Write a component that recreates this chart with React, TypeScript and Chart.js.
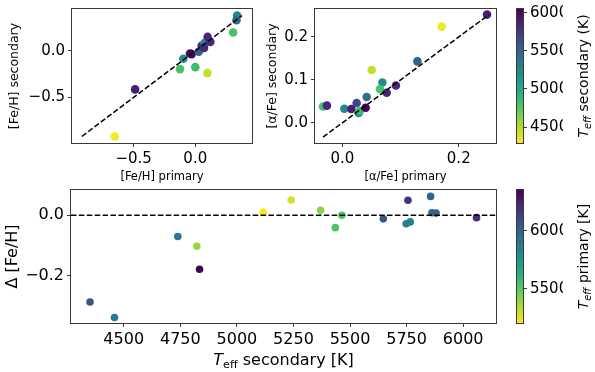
import React, { useEffect, useRef } from 'react';
import { Chart, registerables } from 'chart.js';

Chart.register(...registerables);

const FAM = '"DejaVu Sans", sans-serif';

// ---------------- data ----------------
// top-left: [Fe/H] primary vs secondary, coloured by Teff secondary
const TL_FEH_PRIMARY = [-0.653, -0.488, -0.124, -0.097, 0.0, 0.098, -0.043, -0.03, 0.028, 0.052, 0.074, 0.1, 0.071, 0.122, 0.307, 0.339, 0.334];
const TL_FEH_SECONDARY = [-0.92, -0.414, -0.196, -0.085, -0.175, -0.239, -0.028, -0.035, -0.01, 0.054, 0.085, 0.15, 0.032, 0.097, 0.197, 0.379, 0.329];
const TL_TEFF_SEC = [4300, 5900, 4800, 5200, 4850, 4450, 5950, 6040, 5500, 5850, 5250, 5850, 5850, 5850, 4800, 5250, 5450];

// top-right: [alpha/Fe] primary vs secondary
const TR_ALPHA_PRIMARY = [0.2486, 0.1707, 0.129, 0.0504, 0.0688, 0.0647, 0.092, 0.0762, 0.0418, 0.0246, 0.0034, 0.0155, 0.028, 0.03, 0.04, -0.0333, -0.0265];
const TR_ALPHA_SECONDARY = [0.252, 0.224, 0.143, 0.123, 0.094, 0.078, 0.087, 0.07, 0.06, 0.046, 0.0326, 0.032, 0.023, 0.028, 0.035, 0.038, 0.04];
const TR_TEFF_SEC = [5900, 4320, 5500, 4450, 5200, 4800, 5850, 5850, 5400, 5700, 5250, 5900, 5250, 4850, 6040, 4800, 5850];

// bottom: Delta [Fe/H] vs Teff secondary, coloured by Teff primary
const BOT_TEFF_SEC = [4351, 4459, 4739, 4823, 4835, 5116, 5240, 5370, 5464, 5435, 5647, 5748, 5766, 5756, 5856, 5862, 5880, 6059];
const BOT_DELTA = [-0.286, -0.337, -0.07, -0.102, -0.178, 0.01, 0.05, 0.016, 0.0, -0.041, -0.012, -0.028, -0.022, 0.049, 0.062, 0.008, 0.007, -0.008];
const BOT_TEFF_PRIM = [6050, 5900, 5900, 5380, 6350, 5210, 5285, 5410, 5525, 5525, 6050, 5850, 5850, 6180, 5980, 6000, 6000, 6215];

// axis limits & ticks
const TL_X_LIM = [-1.0, 0.46];
const TL_Y_LIM = [-0.99, 0.45];
const TL_X_TICKS = [-0.5, 0.0];
const TL_X_LABELS = ['\u22120.5', '0.0'];
const TL_Y_TICKS = [-0.5, 0.0];
const TL_Y_LABELS = ['\u22120.5', '0.0'];

const TR_X_LIM = [-0.047, 0.264];
const TR_Y_LIM = [-0.047, 0.265];
const TR_X_TICKS = [0.0, 0.2];
const TR_X_LABELS = ['0.0', '0.2'];
const TR_Y_TICKS = [0.0, 0.1, 0.2];
const TR_Y_LABELS = ['0.0', '0.1', '0.2'];

const BOT_X_LIM = [4267, 6145];
const BOT_Y_LIM = [-0.355, 0.083];
const BOT_X_TICKS = [4500, 4750, 5000, 5250, 5500, 5750, 6000];
const BOT_X_LABELS = ['4500', '4750', '5000', '5250', '5500', '5750', '6000'];
const BOT_Y_TICKS = [-0.2, 0.0];
const BOT_Y_LABELS = ['\u22120.2', '0.0'];

const CB1_LIM = [4290, 6050];
const CB1_TICKS = [4500, 5000, 5500, 6000];
const CB1_LABELS = ['4500', '5000', '5500', '6000'];
const CB2_LIM = [5204, 6353];
const CB2_TICKS = [5500, 6000];
const CB2_LABELS = ['5500', '6000'];

// ---------------- colour map ----------------
const VIRIDIS = ['#440154', '#482475', '#414487', '#355f8d', '#2a788e', '#21918c', '#22a884', '#44bf70', '#7ad151', '#bddf26', '#fde725'];
function hexToRgb(h: string) {
  return [parseInt(h.slice(1, 3), 16), parseInt(h.slice(3, 5), 16), parseInt(h.slice(5, 7), 16)];
}
function viridis(t: number) {
  t = Math.max(0, Math.min(1, t));
  const p = t * (VIRIDIS.length - 1);
  const i = Math.min(VIRIDIS.length - 2, Math.floor(p));
  const f = p - i;
  const a = hexToRgb(VIRIDIS[i]);
  const b = hexToRgb(VIRIDIS[i + 1]);
  const c = a.map((v, k) => Math.round(v + (b[k] - v) * f));
  return `rgb(${c[0]},${c[1]},${c[2]})`;
}
// reversed viridis: low value -> yellow
function cmapR(v: number, lim: number[]) {
  return viridis(1 - (v - lim[0]) / (lim[1] - lim[0]));
}

// ---------------- helpers ----------------
type Part = { t: string; size: number; italic?: boolean; sub?: boolean };
function drawRich(ctx: CanvasRenderingContext2D, parts: Part[], cx: number, cy: number, rot: number, baseSize: number) {
  ctx.save();
  ctx.translate(cx, cy);
  ctx.rotate(rot);
  ctx.fillStyle = '#000';
  ctx.textAlign = 'left';
  ctx.textBaseline = 'alphabetic';
  const fonts = parts.map((p) => `${p.italic ? 'italic ' : ''}${p.size}px ${FAM}`);
  const widths = parts.map((p, i) => {
    ctx.font = fonts[i];
    return ctx.measureText(p.t).width;
  });
  const total = widths.reduce((a, b) => a + b, 0);
  let x = -total / 2;
  const base = baseSize * 0.36;
  parts.forEach((p, i) => {
    ctx.font = fonts[i];
    ctx.fillText(p.t, x, base + (p.sub ? baseSize * 0.22 : 0));
    x += widths[i];
  });
  ctx.restore();
}

type Area = { l: number; t: number; r: number; b: number };
const W = 595;
const H = 372;
const Y_W = 60;
const X_H = 40;

function framePlugin() {
  return {
    id: 'frame',
    afterDraw(chart: any) {
      const { ctx, chartArea: a } = chart;
      ctx.save();
      ctx.strokeStyle = '#3a3a3a';
      ctx.lineWidth = 1;
      const l = Math.round(a.left) - 0.5;
      const t = Math.round(a.top) - 0.5;
      const r = Math.round(a.right) + 0.5;
      const b = Math.round(a.bottom) + 0.5;
      ctx.strokeRect(l, t, r - l, b - t);
      ctx.restore();
    },
  };
}

function titlesPlugin(draw: (ctx: CanvasRenderingContext2D, a: any) => void) {
  return {
    id: 'titles',
    afterDraw(chart: any) {
      draw(chart.ctx, chart.chartArea);
    },
  };
}

function scaleCfg(lim: number[], ticks: number[], labels: string[], isX: boolean, fontSize: number, display = true, position?: string) {
  return {
    type: 'linear',
    display,
    position,
    min: lim[0],
    max: lim[1],
    afterBuildTicks: (s: any) => {
      s.ticks = ticks.map((v) => ({ value: v }));
    },
    afterFit: (s: any) => {
      if (isX) s.height = X_H;
      else s.width = position === 'right' ? 40 : Y_W;
      s.paddingTop = 0;
      s.paddingBottom = 0;
      s.paddingLeft = 0;
      s.paddingRight = 0;
    },
    ticks: {
      callback: (_v: any, i: number) => labels[i],
      font: { family: FAM, size: fontSize },
      color: '#000',
      padding: 3,
      maxRotation: 0,
      minRotation: 0,
      autoSkip: false,
    },
    grid: { drawOnChartArea: false, drawTicks: true, tickLength: 4, color: '#3a3a3a', lineWidth: 1 },
    border: { display: false },
  };
}

function padFor(area: Area, yRight = false) {
  return {
    left: yRight ? area.l : area.l - Y_W,
    top: area.t,
    right: yRight ? W - area.r - 40 : W - area.r,
    bottom: H - area.b - X_H,
  };
}

function pointsDs(xs: number[], ys: number[], cs: number[], lim: number[], r: number) {
  const colors = cs.map((c) => cmapR(c, lim));
  return {
    data: xs.map((x, i) => ({ x, y: ys[i] })),
    backgroundColor: colors,
    borderColor: colors,
    borderWidth: 0,
    pointRadius: r,
    pointHoverRadius: r,
    pointBorderWidth: 0,
    showLine: false,
  };
}

function lineDs(pts: { x: number; y: number }[]) {
  return {
    data: pts,
    showLine: true,
    borderColor: '#000',
    borderWidth: 1.5,
    borderDash: [5.5, 2.4],
    pointRadius: 0,
    pointHoverRadius: 0,
    fill: false,
  };
}

function panelConfig(opts: {
  area: Area;
  xLim: number[];
  yLim: number[];
  xTicks: number[];
  xLabels: string[];
  yTicks: number[];
  yLabels: string[];
  tickSize: number;
  datasets: any[];
  draw: (ctx: CanvasRenderingContext2D, a: any) => void;
}) {
  return {
    type: 'scatter',
    data: { datasets: opts.datasets },
    options: {
      responsive: false,
      maintainAspectRatio: false,
      animation: false,
      devicePixelRatio: 1,
      events: [],
      layout: { padding: padFor(opts.area), autoPadding: false },
      plugins: { legend: { display: false }, tooltip: { enabled: false }, title: { display: false } },
      scales: {
        x: scaleCfg(opts.xLim, opts.xTicks, opts.xLabels, true, opts.tickSize),
        y: scaleCfg(opts.yLim, opts.yTicks, opts.yLabels, false, opts.tickSize),
      },
    },
    plugins: [framePlugin(), titlesPlugin(opts.draw)],
  } as any;
}

function colorbarConfig(area: Area, lim: number[], ticks: number[], labels: string[], draw: (ctx: CanvasRenderingContext2D, a: any) => void) {
  const gradientPlugin = {
    id: 'grad',
    beforeDatasetsDraw(chart: any) {
      const { ctx, chartArea: a } = chart;
      const y0 = chart.scales.y.getPixelForValue(lim[0]);
      const y1 = chart.scales.y.getPixelForValue(lim[1]);
      const g = ctx.createLinearGradient(0, y0, 0, y1);
      for (let i = 0; i <= 50; i++) {
        const t = i / 50;
        g.addColorStop(t, cmapR(lim[0] + t * (lim[1] - lim[0]), lim));
      }
      ctx.save();
      ctx.fillStyle = g;
      ctx.fillRect(a.left, y1, a.right - a.left, y0 - y1);
      ctx.restore();
    },
  };
  return {
    type: 'scatter',
    data: { datasets: [{ data: [] }] },
    options: {
      responsive: false,
      maintainAspectRatio: false,
      animation: false,
      devicePixelRatio: 1,
      events: [],
      layout: {
        padding: { left: area.l, top: area.t, right: W - area.r - 40, bottom: H - area.b },
        autoPadding: false,
      },
      plugins: { legend: { display: false }, tooltip: { enabled: false } },
      scales: {
        x: { type: 'linear', display: false, min: 0, max: 1 },
        y: scaleCfg(lim, ticks, labels, false, 15, true, 'right'),
      },
    },
    plugins: [gradientPlugin, framePlugin(), titlesPlugin(draw)],
  } as any;
}

function diagLine(xs: number[], ys: number[]) {
  const lo = Math.min(...xs, ...ys);
  const hi = Math.max(...xs, ...ys);
  return [
    { x: lo, y: lo },
    { x: hi, y: hi },
  ];
}

export default function App() {
  const r1 = useRef<HTMLCanvasElement>(null);
  const r2 = useRef<HTMLCanvasElement>(null);
  const r3 = useRef<HTMLCanvasElement>(null);
  const r4 = useRef<HTMLCanvasElement>(null);
  const r5 = useRef<HTMLCanvasElement>(null);

  useEffect(() => {
    const TL: Area = { l: 72, t: 9, r: 252, b: 143 };
    const TR: Area = { l: 315, t: 9, r: 496, b: 143 };
    const BOT: Area = { l: 71, t: 190, r: 496, b: 323 };
    const CB1: Area = { l: 517, t: 9, r: 523, b: 143 };
    const CB2: Area = { l: 517, t: 190, r: 523, b: 323 };

    const c1 = new Chart(
      r1.current as HTMLCanvasElement,
      panelConfig({
        area: TL,
        xLim: TL_X_LIM,
        yLim: TL_Y_LIM,
        xTicks: TL_X_TICKS,
        xLabels: TL_X_LABELS,
        yTicks: TL_Y_TICKS,
        yLabels: TL_Y_LABELS,
        tickSize: 15,
        datasets: [
          lineDs(diagLine(TL_FEH_PRIMARY, TL_FEH_SECONDARY)),
          pointsDs(TL_FEH_PRIMARY, TL_FEH_SECONDARY, TL_TEFF_SEC, CB1_LIM, 4.3),
        ],
        draw: (ctx, a) => {
          drawRich(ctx, [{ t: '[Fe/H] primary', size: 11.5 }], (a.left + a.right) / 2, 176, 0, 11.5);
          drawRich(ctx, [{ t: '[Fe/H] secondary', size: 12.5 }], 13, (a.top + a.bottom) / 2, -Math.PI / 2, 12.5);
        },
      })
    );
    const c2 = new Chart(
      r2.current as HTMLCanvasElement,
      panelConfig({
        area: TR,
        xLim: TR_X_LIM,
        yLim: TR_Y_LIM,
        xTicks: TR_X_TICKS,
        xLabels: TR_X_LABELS,
        yTicks: TR_Y_TICKS,
        yLabels: TR_Y_LABELS,
        tickSize: 15,
        datasets: [
          lineDs(diagLine(TR_ALPHA_PRIMARY, TR_ALPHA_SECONDARY)),
          pointsDs(TR_ALPHA_PRIMARY, TR_ALPHA_SECONDARY, TR_TEFF_SEC, CB1_LIM, 4.3),
        ],
        draw: (ctx, a) => {
          drawRich(ctx, [{ t: '[\u03b1/Fe] primary', size: 11.5 }], (a.left + a.right) / 2, 176, 0, 11.5);
          drawRich(ctx, [{ t: '[\u03b1/Fe] secondary', size: 12.5 }], 271, (a.top + a.bottom) / 2, -Math.PI / 2, 12.5);
        },
      })
    );
    const c3 = new Chart(
      r3.current as HTMLCanvasElement,
      panelConfig({
        area: BOT,
        xLim: BOT_X_LIM,
        yLim: BOT_Y_LIM,
        xTicks: BOT_X_TICKS,
        xLabels: BOT_X_LABELS,
        yTicks: BOT_Y_TICKS,
        yLabels: BOT_Y_LABELS,
        tickSize: 16,
        datasets: [
          lineDs([
            { x: BOT_X_LIM[0], y: 0 },
            { x: BOT_X_LIM[1], y: 0 },
          ]),
          pointsDs(BOT_TEFF_SEC, BOT_DELTA, BOT_TEFF_PRIM, CB2_LIM, 3.8),
        ],
        draw: (ctx, a) => {
          drawRich(
            ctx,
            [
              { t: 'T', size: 16, italic: true },
              { t: 'eff', size: 11.2, sub: true },
              { t: ' secondary [K]', size: 16 },
            ],
            (a.left + a.right) / 2,
            359,
            0,
            16
          );
          drawRich(ctx, [{ t: '\u0394 [Fe/H]', size: 16 }], 11, (a.top + a.bottom) / 2, -Math.PI / 2, 16);
        },
      })
    );
    const c4 = new Chart(
      r4.current as HTMLCanvasElement,
      colorbarConfig(CB1, CB1_LIM, CB1_TICKS, CB1_LABELS, (ctx, a) => {
        drawRich(
          ctx,
          [
            { t: 'T', size: 14, italic: true },
            { t: 'eff', size: 9.8, italic: true, sub: true },
            { t: ' secondary (K)', size: 14 },
          ],
          583,
          (a.top + a.bottom) / 2,
          -Math.PI / 2,
          14
        );
      })
    );
    const c5 = new Chart(
      r5.current as HTMLCanvasElement,
      colorbarConfig(CB2, CB2_LIM, CB2_TICKS, CB2_LABELS, (ctx, a) => {
        drawRich(
          ctx,
          [
            { t: 'T', size: 14, italic: true },
            { t: 'eff', size: 9.8, italic: true, sub: true },
            { t: ' primary [K]', size: 14 },
          ],
          583,
          (a.top + a.bottom) / 2,
          -Math.PI / 2,
          14
        );
      })
    );
    const charts = [c1, c2, c3, c4, c5];
    return () => charts.forEach((c) => c.destroy());
  }, []);

  const cs = { position: 'absolute' as const, left: 0, top: 0, width: W, height: H };
  return (
    <div style={{ position: 'absolute', left: 0, top: 0, width: W, height: H, background: '#fff', overflow: 'hidden' }}>
      <canvas ref={r1} width={W} height={H} style={cs} />
      <canvas ref={r2} width={W} height={H} style={cs} />
      <canvas ref={r3} width={W} height={H} style={cs} />
      <canvas ref={r4} width={W} height={H} style={cs} />
      <canvas ref={r5} width={W} height={H} style={cs} />
    </div>
  );
}
